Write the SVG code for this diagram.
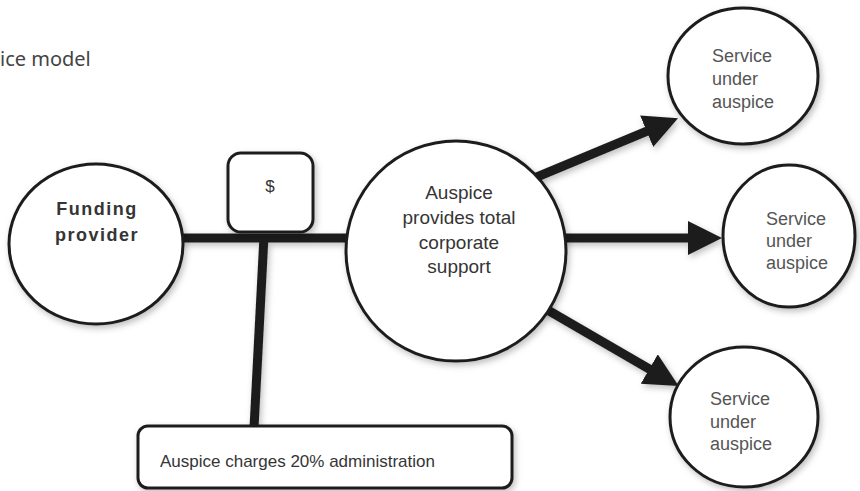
<svg xmlns="http://www.w3.org/2000/svg" width="860" height="491" viewBox="0 0 860 491">
  <defs>
    <filter id="shadow" x="-20%" y="-20%" width="140%" height="140%">
      <feDropShadow dx="2" dy="3" stdDeviation="3" flood-color="#000" flood-opacity="0.25"/>
    </filter>
    <marker id="arrow" markerUnits="userSpaceOnUse" markerWidth="36" markerHeight="36" refX="2" refY="17" orient="auto">
      <path d="M0,0 L34,17 L0,34 Z" fill="#1e1e1e"/>
    </marker>
    <style>
      .node { fill: #fff; stroke: #1e1e1e; stroke-width: 3; filter: url(#shadow); }
      .link { stroke: #1e1e1e; stroke-width: 9; fill: none; }
      .futura { font-family: "Liberation Sans", Arial, sans-serif; fill: #353535; }
      .svc { font-family: "Liberation Sans", Arial, sans-serif; font-size: 18px; fill: #555; }
    </style>
  </defs>

  <rect width="860" height="491" fill="#fff"/>

  <!-- heading fragment -->
  <text x="0" y="66" font-family="'Noto Sans', 'Open Sans', sans-serif" font-size="20" fill="#444">ice model</text>

  <!-- connectors -->
  <g id="connectors" filter="url(#shadow)">
    <line class="link" x1="180" y1="238" x2="360" y2="238"/>
    <line class="link" x1="264" y1="236" x2="254" y2="428"/>
    <line class="link" x1="520" y1="184" x2="648.5" y2="130.5" marker-end="url(#arrow)"/>
    <line class="link" x1="520" y1="238" x2="690" y2="238" marker-end="url(#arrow)"/>
    <line class="link" x1="520" y1="294" x2="651" y2="370" marker-end="url(#arrow)"/>
  </g>

  <g id="funding-provider">
    <ellipse class="node" cx="96" cy="244" rx="87" ry="80"/>
    <text class="futura" x="97" y="215" font-size="18" font-weight="bold" letter-spacing="1.5" text-anchor="middle">Funding</text>
    <text class="futura" x="97" y="241" font-size="18" font-weight="bold" letter-spacing="1.5" text-anchor="middle">provider</text>
  </g>

  <g id="payment">
    <rect class="node" x="228" y="153" width="85" height="79" rx="13"/>
    <text class="futura" x="270" y="192" font-size="17" text-anchor="middle">$</text>
  </g>

  <g id="auspice">
    <circle class="node" cx="456" cy="251" r="110"/>
    <text class="futura" x="459" y="199" font-size="19" text-anchor="middle">Auspice</text>
    <text class="futura" x="459" y="224" font-size="19" text-anchor="middle">provides total</text>
    <text class="futura" x="459" y="249" font-size="19" text-anchor="middle">corporate</text>
    <text class="futura" x="459" y="273" font-size="19" text-anchor="middle">support</text>
  </g>

  <g id="admin-charge">
    <rect class="node" x="138" y="426" width="374" height="62" rx="10"/>
    <text class="futura" x="160" y="467" font-size="17">Auspice charges 20% administration</text>
  </g>

  <g id="service-1">
    <ellipse class="node" cx="743" cy="76" rx="75" ry="68"/>
    <text class="svc" x="712" y="62">Service</text>
    <text class="svc" x="712" y="85">under</text>
    <text class="svc" x="712" y="108">auspice</text>
  </g>

  <g id="service-2">
    <ellipse class="node" cx="789" cy="236" rx="66" ry="71"/>
    <text class="svc" x="766" y="225">Service</text>
    <text class="svc" x="766" y="247">under</text>
    <text class="svc" x="766" y="269">auspice</text>
  </g>

  <g id="service-3">
    <ellipse class="node" cx="744" cy="417" rx="74" ry="70"/>
    <text class="svc" x="710" y="405">Service</text>
    <text class="svc" x="710" y="428">under</text>
    <text class="svc" x="710" y="450">auspice</text>
  </g>
</svg>
